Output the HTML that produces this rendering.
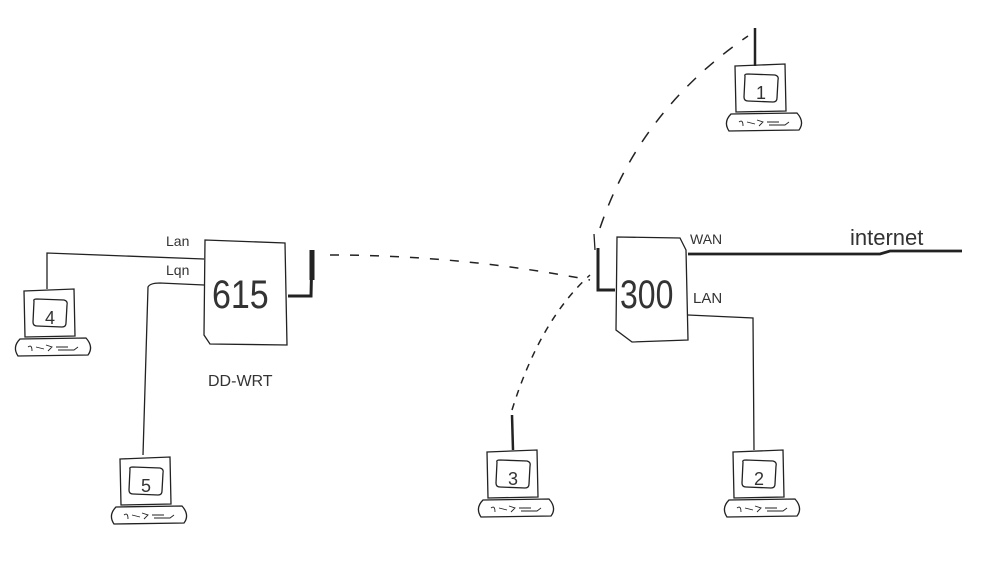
<!DOCTYPE html>
<html><head><style>body{margin:0;background:#fff}svg{display:block}</style></head>
<body>
<svg width="999" height="584" viewBox="0 0 999 584" xmlns="http://www.w3.org/2000/svg" font-family="Liberation Sans, sans-serif">
<defs>
<g id="pc" fill="none" stroke="#222" stroke-width="1.3">
<path d="M0,2 L50,0 L51,47 L1,48 Z"/>
<path d="M10,12 Q9,10 13,10 L40,11 Q44,12 43,16 L42,34 Q42,38 38,38 L13,37 Q9,37 9,33 Z"/>
<path d="M-4,50 L62,49 Q70,58 64,66 L-6,67 Q-12,58 -4,50 Z"/>
<path d="M4,58 Q8,55 8,62 M12,58 L20,60 M22,56 L28,58 L24,62 M32,58 L44,58 M34,61 L50,61 L54,58" stroke-width="0.9"/>
</g>
</defs>
<g fill="none" stroke="#222" stroke-width="1.3">
<path d="M205,240 L285,243 L287,345 L210,344 L204,335 Z"/>
<path d="M617,237 L680,238 L686,250 L688,340 L632,342 L616,330 Z"/>
<path d="M47,289 L47,253 L204,259"/>
<path d="M143,455 L148,287 Q150,283 160,283 L204,285"/>
<path d="M688,315 L753,318 L754,450"/>
<path d="M688,254 L880,254 L890,251 L962,251" stroke-width="2.8"/>
<path d="M288,296 L311,296 L312,250" stroke-width="3"/>
<path d="M312,250 L312,280" stroke-width="5"/>
<path d="M598,248 L598,290 L615,290" stroke-width="3"/>
<path d="M594,234 L595,250" stroke-width="1.3"/>
<path d="M512,415 L513,450" stroke-width="2.5"/>
<path d="M755,28 L755,66" stroke-width="2.5"/>
<path d="M330,255 Q460,255 590,280" stroke-dasharray="9 11" stroke-width="1.5"/>
<path d="M600,228 Q640,110 748,36" stroke-dasharray="12 12" stroke-width="1.5"/>
<path d="M512,410 Q540,320 590,275" stroke-dasharray="7 7" stroke-width="1.5"/>
</g>
<use href="#pc" x="24" y="289"/>
<use href="#pc" x="120" y="457"/>
<use href="#pc" x="487" y="450"/>
<use href="#pc" x="733" y="450"/>
<use href="#pc" x="735" y="64"/>
<g fill="#333" font-size="18" text-anchor="middle">
<text x="50" y="324">4</text>
<text x="146" y="492">5</text>
<text x="513" y="485">3</text>
<text x="759" y="485">2</text>
<text x="761" y="99">1</text>
</g>
<g fill="#333">
<text x="212" y="308" font-size="40" transform="translate(212,0) scale(0.85,1) translate(-212,0)">615</text>
<text x="620" y="308" font-size="40" transform="translate(620,0) scale(0.8,1) translate(-620,0)">300</text>
<text x="208" y="386" font-size="16">DD-WRT</text>
<text x="166" y="246" font-size="14">Lan</text>
<text x="166" y="275" font-size="14">Lqn</text>
<text x="690" y="244" font-size="14">WAN</text>
<text x="693" y="303" font-size="15">LAN</text>
<text x="850" y="245" font-size="22">internet</text>
</g>
</svg>
</body></html>
